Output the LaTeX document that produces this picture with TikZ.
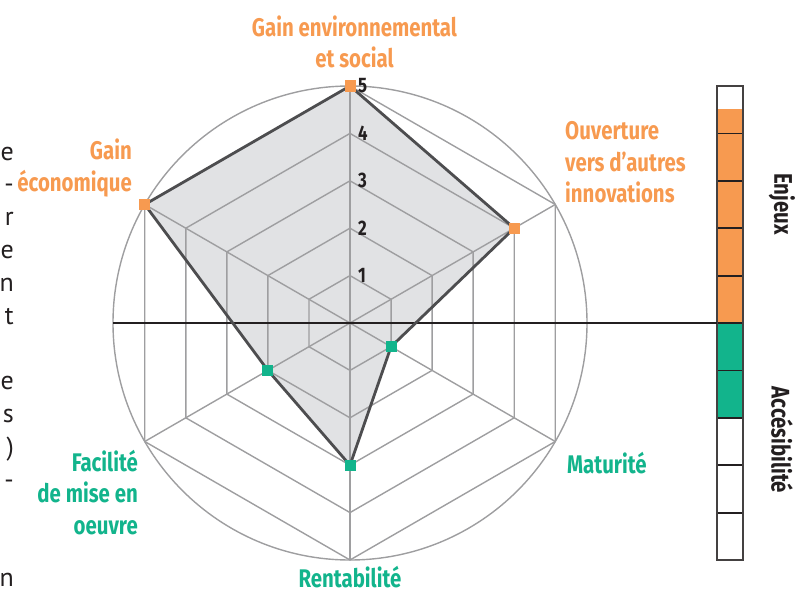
\documentclass[tikz,border=0pt]{standalone}
\usepackage{fontspec}
\usetikzlibrary{calc}
\setmainfont{PT Sans}
\newfontfamily\labfont{Fira Sans}[FakeStretch=0.8]
\definecolor{orng}{RGB}{247,154,80}
\definecolor{grn}{RGB}{18,180,140}
\definecolor{gridc}{RGB}{158,158,160}
\definecolor{polyfill}{RGB}{225,226,228}
\definecolor{polyline}{RGB}{77,77,79}
\definecolor{ink}{RGB}{35,31,32}
\begin{document}
\begin{tikzpicture}[x=1pt,y=-1pt,
  gridline/.style={draw=gridc, line width=1.4pt},
  lab/.style={font=\labfont\bfseries\fontsize{25.5}{31.5}\selectfont, inner sep=0pt},
  numlab/.style={font=\labfont\bfseries\fontsize{21}{22}\selectfont, text=ink, inner sep=0pt, anchor=west},
  frag/.style={font=\fontsize{26}{26}\selectfont, text=ink, inner sep=0pt, anchor=base east},
  mk/.style={rectangle, minimum size=11pt, inner sep=0pt, draw=none},
  cellline/.style={draw=ink, line width=1.8pt}]
\useasboundingbox (0,0) rectangle (798,594);
\def\u{47.4}
\def\R{237}
\coordinate (C) at (350,323);
\begin{scope}[shift={(350,323)}]
  % data points
  \coordinate (pEnv) at (-90:5*\u);
  \coordinate (pOuv) at (-30:4*\u);
  \coordinate (pMat) at (30:1*\u);
  \coordinate (pRen) at (90:3*\u);
  \coordinate (pFac) at (150:2*\u);
  \coordinate (pEco) at (210:5*\u);
  \fill[polyfill] (pEnv) -- (pOuv) -- (pMat) -- (pRen) -- (pFac) -- (pEco) -- cycle;
  % grid
  \draw[gridline] (0,0) circle[radius=\R];
  \foreach \l in {1,...,5}{
    \draw[gridline, line join=miter] (-90:\l*\u) -- (-30:\l*\u) -- (30:\l*\u) -- (90:\l*\u) -- (150:\l*\u) -- (210:\l*\u) -- cycle;
  }
  \foreach \a [count=\i] in {-90,-30,30,90,150,210}{
    \coordinate (s\i) at (\a:\R);
    \draw[gridline] (C) -- (s\i);
  }
  % level numbers
  \foreach \l in {1,...,5}{
    \node[numlab] (n\l) at ($(-90:\l*\u)+(8,0)$) {\l};
  }
\end{scope}
% horizontal axis
\coordinate (hl) at (113,323);
% bar
\node[draw=none, minimum width=26pt, minimum height=474pt, inner sep=0pt] (bar) at (730,323) {};
\fill[orng] (bar.west |- 0,109) rectangle (bar.east);
\fill[grn] (bar.west) rectangle (bar.east |- 0,417.8);
\foreach \k in {1,...,9}{
  \draw[cellline] (717,86+\k*47.4) -- (743,86+\k*47.4);
}
\draw[draw=ink!85, line width=1.6pt] (bar.south west) rectangle (bar.north east);
\draw[ink, line width=1.8pt] (hl) -- (bar.west);
% polygon outline
\draw[polyline, line width=2.8pt, line join=miter] (pEnv) -- (pOuv) -- (pMat) -- (pRen) -- (pFac) -- (pEco) -- cycle;
% markers
\node[mk, fill=orng] (mEnv) at (pEnv) {};
\node[mk, fill=orng] (mOuv) at (pOuv) {};
\node[mk, fill=grn] (mMat) at (pMat) {};
\node[mk, fill=grn] (mRen) at (pRen) {};
\node[mk, fill=grn] (mFac) at (pFac) {};
\node[mk, fill=orng] (mEco) at (pEco) {};
% axis labels
\node[lab, text=orng, align=center, anchor=north] (lEnv) at (354.5,15.5) {Gain environnemental\\et social};
\node[lab, text=orng, align=right, anchor=north east] (lEco) at (132,139) {Gain\\économique};
\node[lab, text=orng, align=left, anchor=north west] (lOuv) at (565,121.5) {Ouverture\\vers d’autres\\innovations};
\node[lab, text=grn, anchor=base west] (lMat) at (567,473) {Maturité};
\node[lab, text=grn, anchor=base] (lRen) at (350,587) {Rentabilité};
\node[lab, text=grn, align=right, anchor=north east] (lFac) at (138,450) {Facilité\\de mise en\\oeuvre};
\node[lab, text=ink, rotate=-90] (lEnj) at (782,204) {Enjeux};
\node[lab, text=ink, rotate=-90] (lAcc) at (782,440) {Accésibilité};
% cut text fragments on the left edge
\foreach \t/\yy [count=\i] in {e/160,-/192.8,r/225.6,e/258.4,n/291.2,t/324,e/389.6,s/422.4,)/455.2,-/488,n/586.4}{
  \node[frag] (f\i) at (14,\yy) {\t};
}
\end{tikzpicture}
\end{document}
